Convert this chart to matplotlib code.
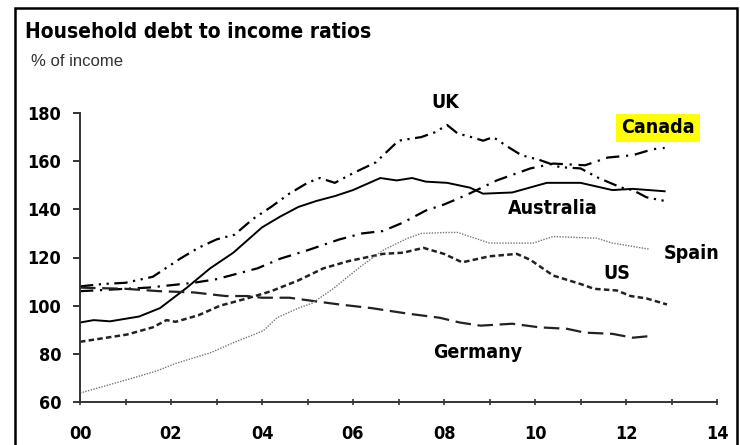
import matplotlib

matplotlib.use("Agg")
import matplotlib.pyplot as plt
from matplotlib.patches import Rectangle

# years since 2000, values in % of income
uk_x = [0, 0.5, 1.0, 1.6, 2.2, 2.6, 3.0, 3.4, 3.8, 4.2, 4.6, 5.0, 5.27, 5.6, 6.0, 6.5,
        7.0, 7.5, 7.8, 8.07, 8.3, 8.6, 8.86, 9.08, 9.4, 9.7, 10.1, 10.55, 11.0, 11.4,
        11.9, 12.15, 12.45, 12.85]
uk_y = [108, 109, 109.5, 112, 119.5, 124, 127.5, 129.5, 136, 141, 146.5, 151, 153, 151,
        155, 159.5, 168.5, 170, 172, 175, 171.5, 170, 168.5, 170, 166, 162.5, 160.5,
        157.5, 157, 153, 149, 148, 145, 143.5]

canada_x = [0, 0.5, 1.0, 1.5, 2.0, 2.5, 3.0, 3.5, 3.9, 4.4, 5.0, 5.7, 6.2, 6.66, 7.1,
            7.6, 8.0, 8.5, 9.16, 9.9, 10.4, 11.1, 11.6, 12.15, 12.6, 12.85]
canada_y = [106, 106.5, 107, 107.5, 108.5, 109.5, 111, 113.5, 115.5, 119.5, 123, 127.5,
            130, 131, 134.5, 139.5, 142, 146, 152, 157, 159, 158.3, 161.5, 162.5, 165,
            165.5]

australia_x = [0, 0.3, 0.66, 1.3, 1.76, 2.35, 2.86, 3.37, 4.0, 4.4, 4.8, 5.2, 5.6, 6.0,
               6.3, 6.6, 6.96, 7.3, 7.6, 8.07, 8.57, 8.86, 9.5, 10.26, 11.0, 11.7, 12.15,
               12.85]
australia_y = [93, 94, 93.5, 95.5, 99, 107.5, 115.5, 122, 132.5, 137, 141, 143.5, 145.5,
               148, 150.5, 153, 152, 153, 151.5, 151, 149, 146.5, 147, 151, 151, 148,
               148.5, 147.5]

us_x = [0, 1.03, 1.6, 1.9, 2.1, 2.6, 3.08, 3.67, 4.2, 4.8, 5.35, 5.9, 6.66, 7.1, 7.55,
        8.0, 8.4, 9.0, 9.6, 9.9, 10.4, 11.0, 11.3, 11.8, 12.1, 12.45, 12.9]
us_y = [85, 88, 91, 94, 93.3, 96, 100, 103, 106, 110.5, 115.5, 118.5, 121.5, 122, 124,
        121.5, 118, 120.5, 121.5, 119, 112.5, 109, 107, 106.3, 104, 103, 100.5]

germany_x = [0, 1.0, 1.76, 2.5, 3.2, 3.67, 4.0, 4.6, 5.1, 5.7, 6.4, 7.2, 7.9, 8.35, 8.8,
             9.5, 10.1, 10.7, 11.1, 11.7, 12.15, 12.6]
germany_y = [107.5, 107, 106, 105.5, 104, 104, 103.3, 103.3, 102, 100.5, 99, 96.7, 95,
             93, 91.7, 92.5, 91, 90.4, 88.8, 88.3, 86.7, 87.5]

spain_x = [0, 1.17, 1.7, 2.1, 2.86, 3.37, 4.03, 4.33, 4.8, 5.1, 5.56, 6.15, 6.66, 7.2,
           7.5, 8.07, 8.3, 9.0, 9.96, 10.4, 11.36, 11.7, 12.5]
spain_y = [63.7, 70, 73, 76, 80.4, 84.6, 89.6, 95, 99, 101, 107, 116, 123, 128, 130,
           130.4, 130.4, 126, 126, 128.7, 128, 126, 123.5]

y_ticks = [60, 80, 100, 120, 140, 160, 180]
x_ticks = list(range(0, 15))
x_labels = [f"{t:02d}" if t % 2 == 0 else "" for t in x_ticks]

cond = dict(family="DejaVu Sans", fontstretch="condensed", fontweight="bold")

fig = plt.figure(figsize=(7.4, 4.45), dpi=100)
W, H = 740, 445

# outer frame (bottom edge runs off the image)
fig.patches.append(Rectangle((15 / W, -0.05), 722 / W, 1.05 - 8 / H, transform=fig.transFigure,
                             fill=False, edgecolor="black", linewidth=1.8))

fig.text(25 / W, 1 - 32 / H, "Household debt to income ratios", fontsize=15,
         va="center", ha="left", **cond)
fig.text(31 / W, 1 - 61 / H, "% of income", fontsize=12, color="#333333",
         family="Liberation Sans", va="center", ha="left")

ax = fig.add_axes([80 / W, 43 / H, 637 / W, 289 / H])
ax.plot(uk_x, uk_y, color="black", linewidth=1.6, linestyle=(0, (6, 2.5, 1, 2.5, 1, 2.5)))
ax.plot(canada_x, canada_y, color="black", linewidth=1.6, linestyle=(0, (6, 3, 1, 3)))
ax.plot(australia_x, australia_y, color="black", linewidth=1.4)
ax.plot(us_x, us_y, color="#222222", linewidth=1.8, linestyle=(0, (2.2, 1.3)))
ax.plot(germany_x, germany_y, color="#222222", linewidth=1.6, linestyle=(0, (7, 3)))
ax.plot(spain_x, spain_y, color="#777777", linewidth=1.0, linestyle=(0, (1, 1)))

lbl = dict(fontsize=14, ha="center", va="center", clip_on=False, **cond)
ax.text(8.02, 184.2, "UK", **lbl)
ax.text(12.7, 173.8, "Canada",
        bbox=dict(facecolor="#ffff00", edgecolor="none", boxstyle="square,pad=0.25"), **lbl)
ax.text(10.4, 140.4, "Australia", **lbl)
ax.text(13.45, 121.7, "Spain", **lbl)
ax.text(11.8, 113.3, "US", **lbl)
ax.text(8.73, 80.4, "Germany", **lbl)

ax.set_xlim(0, 14)
ax.set_ylim(60, 180)
ax.set_xticks(x_ticks)
ax.set_xticklabels(x_labels)
ax.set_yticks(y_ticks)
for side in ("top", "right"):
    ax.spines[side].set_visible(False)
for side in ("left", "bottom"):
    ax.spines[side].set_linewidth(1.4)
    ax.spines[side].set_color("#333333")
ax.tick_params(axis="y", direction="out", length=5, width=1.4, color="#333333", pad=8.5,
               labelsize=13)
ax.tick_params(axis="x", direction="inout", length=5, width=1.2, color="#333333", pad=14,
               labelsize=13)
for t in ax.get_xticklabels() + ax.get_yticklabels():
    t.set_fontweight("bold")
    t.set_family("DejaVu Sans")
    t.set_fontstretch("condensed")

fig.savefig("out.png", dpi=100)
plt.close(fig)
